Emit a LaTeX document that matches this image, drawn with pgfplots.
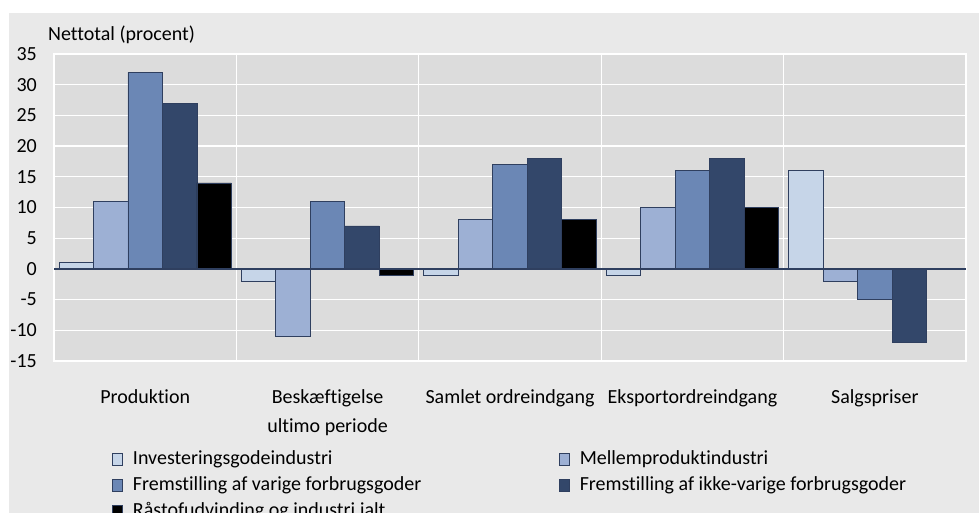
\documentclass[border=0pt]{standalone}
\usepackage{fontspec}
\setmainfont{Carlito}[Ligatures={NoCommon}]
\usepackage{pgfplots}
\pgfplotsset{compat=1.18}
\definecolor{panel}{HTML}{E9E9E9}
\definecolor{plotbg}{HTML}{DCDCDC}
\definecolor{cA}{HTML}{C6D5E8}
\definecolor{cB}{HTML}{9DB0D4}
\definecolor{cC}{HTML}{6B87B5}
\definecolor{cD}{HTML}{33476A}
\definecolor{edge}{HTML}{2F3F5F}
\begin{document}
\fontsize{20bp}{24bp}\selectfont
\begin{tikzpicture}
\useasboundingbox (0,0) rectangle (979bp,513bp);
\clip (0,0) rectangle (979bp,513bp);
\fill[white] (0,0) rectangle (979bp,513bp);
\fill[panel] (9bp,-10bp) rectangle (979bp,500bp);
\node[anchor=base west, inner sep=0pt] at (48bp,472bp) {Nettotal (procent)};
\begin{axis}[
  at={(54bp,152bp)}, anchor=south west, scale only axis,
  width=912bp, height=307bp,
  xmin=-0.5, xmax=4.5, ymin=-15, ymax=35,
  ytick={-15,-10,...,35},
  xtick={0,...,4},
  xticklabels={Produktion,{Beskæftigelse\\[5bp]ultimo periode},Samlet ordreindgang,Eksportordreindgang,Salgspriser},
  minor xtick={0.5,1.5,2.5,3.5},
  xminorgrids=true, ymajorgrids=true, xmajorgrids=false,
  grid style={draw=white, line width=1.2bp},
  minor grid style={draw=white, line width=1.2bp},
  major tick length=0pt, minor tick length=0pt,
  axis line style={draw=white, line width=1.2bp},
  axis background/.style={fill=plotbg},
  /pgf/number format/assume math mode=true,
  yticklabel style={anchor=east, inner sep=0pt, xshift=-17bp, font=\fontsize{20bp}{24bp}\selectfont},
  xticklabel style={anchor=north, inner sep=0pt, align=center, yshift=-28bp, font=\fontsize{20bp}{24bp}\selectfont},
  ybar=0pt, bar width=0.189,
  every axis plot/.append style={draw=edge, line width=0.8bp},
  legend columns=2,
  legend cell align=left,
  legend style={draw=none, fill=none, at={(axis description cs:0.0636,-0.285)}, anchor=north west, inner sep=0pt,
    font=\fontsize{20bp}{24bp}\selectfont, /tikz/column sep=0pt, /tikz/row sep=5bp},
  legend image code/.code={\draw[#1] (0bp,-6bp) rectangle (10bp,6bp); \path (18bp,0bp);},
]
\addplot[fill=cA, bar shift=-0.378] coordinates {(0,1) (1,-2) (2,-1) (3,-1) (4,16)};
\addplot[fill=cB, bar shift=-0.189] coordinates {(0,11) (1,-11) (2,8) (3,10) (4,-2)};
\addplot[fill=cC, bar shift=0] coordinates {(0,32) (1,11) (2,17) (3,16) (4,-5)};
\addplot[fill=cD, bar shift=0.189] coordinates {(0,27) (1,7) (2,18) (3,18) (4,-12)};
\addplot[fill=black, bar shift=0.378] coordinates {(0,14) (1,-1) (2,8) (3,10) (4,0)};
\legend{\makebox[424bp][l]{Investeringsgodeindustri},Mellemproduktindustri,\makebox[424bp][l]{Fremstilling af varige forbrugsgoder},Fremstilling af ikke-varige forbrugsgoder,\makebox[424bp][l]{Råstofudvinding og industri jalt}}
\draw[draw=edge, line width=1.3bp] (axis cs:-0.5,0) -- (axis cs:4.5,0);
\end{axis}
\end{tikzpicture}
\end{document}
